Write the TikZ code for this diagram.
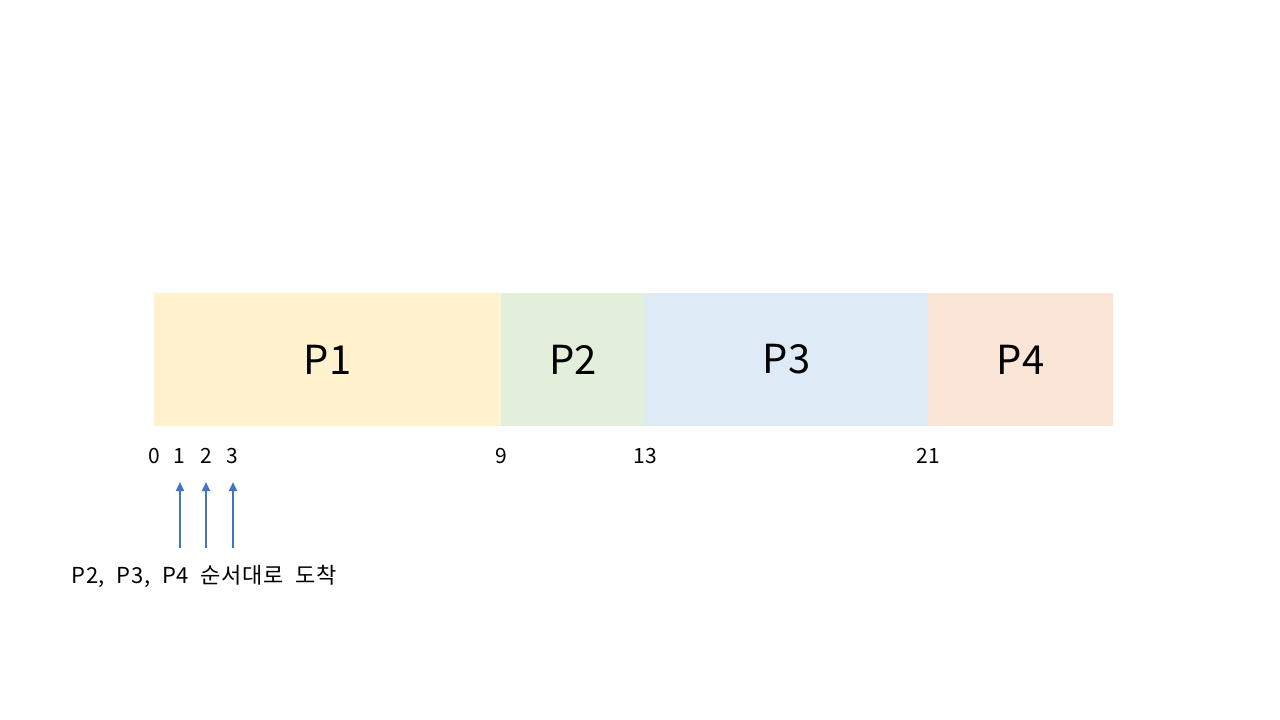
\documentclass[tikz,border=0pt]{standalone}
\usepackage{fontspec}
\setmainfont{Noto Sans CJK KR}
\newfontfamily\lblfont[LetterSpace=3,WordSpace=2.1]{Noto Sans CJK KR}
\usetikzlibrary{arrows.meta}
\definecolor{cone}{HTML}{FFF2CC}
\definecolor{ctwo}{HTML}{E2EFDA}
\definecolor{cthree}{HTML}{DEEBF7}
\definecolor{cfour}{HTML}{FBE5D6}
\definecolor{arrowblue}{HTML}{4472C4}
\begin{document}
\begin{tikzpicture}[x=1pt,y=-1pt,
  seg/.style={inner sep=0pt, outer sep=0pt, minimum height=133pt, anchor=north west, font=\fontsize{40}{48}\selectfont},
  tick/.style={font=\fontsize{21}{24}\selectfont, inner sep=0pt},
  arr/.style={draw=arrowblue, line width=2.2pt, -{Triangle[length=9pt,width=8pt]}}]
\useasboundingbox (0,0) rectangle (1280,720);
\fill[white] (0,0) rectangle (1280,720);
\node[seg, fill=cone, minimum width=347pt] (p1) at (154,293) {P1};
\node[seg, fill=ctwo, minimum width=144pt] (p2) at (501,293) {P2};
\node[seg, fill=cthree, minimum width=283pt] (p3) at (645,293) {P3};
\node[seg, fill=cfour, minimum width=185pt] (p4) at (928,293) {P4};
\node[tick] (t0) at (154,456) {0};
\node[tick] (t1) at (179,456) {1};
\node[tick] (t2) at (206,456) {2};
\node[tick] (t3) at (232,456) {3};
\node[tick] (t9) at (501,456) {9};
\node[tick] (t13) at (645,456) {13};
\node[tick] (t21) at (928,456) {21};
\coordinate (a1s) at (180,548); \coordinate (a1e) at (180,482);
\coordinate (a2s) at (206,548); \coordinate (a2e) at (206,482);
\coordinate (a3s) at (233,548); \coordinate (a3e) at (233,482);
\draw[arr] (a1s) -- (a1e);
\draw[arr] (a2s) -- (a2e);
\draw[arr] (a3s) -- (a3e);
\node[tick, font=\lblfont\fontsize{22}{26}\selectfont] (lbl) at (204,576) {P2, P3, P4 순서대로 도착};
\end{tikzpicture}
\end{document}
